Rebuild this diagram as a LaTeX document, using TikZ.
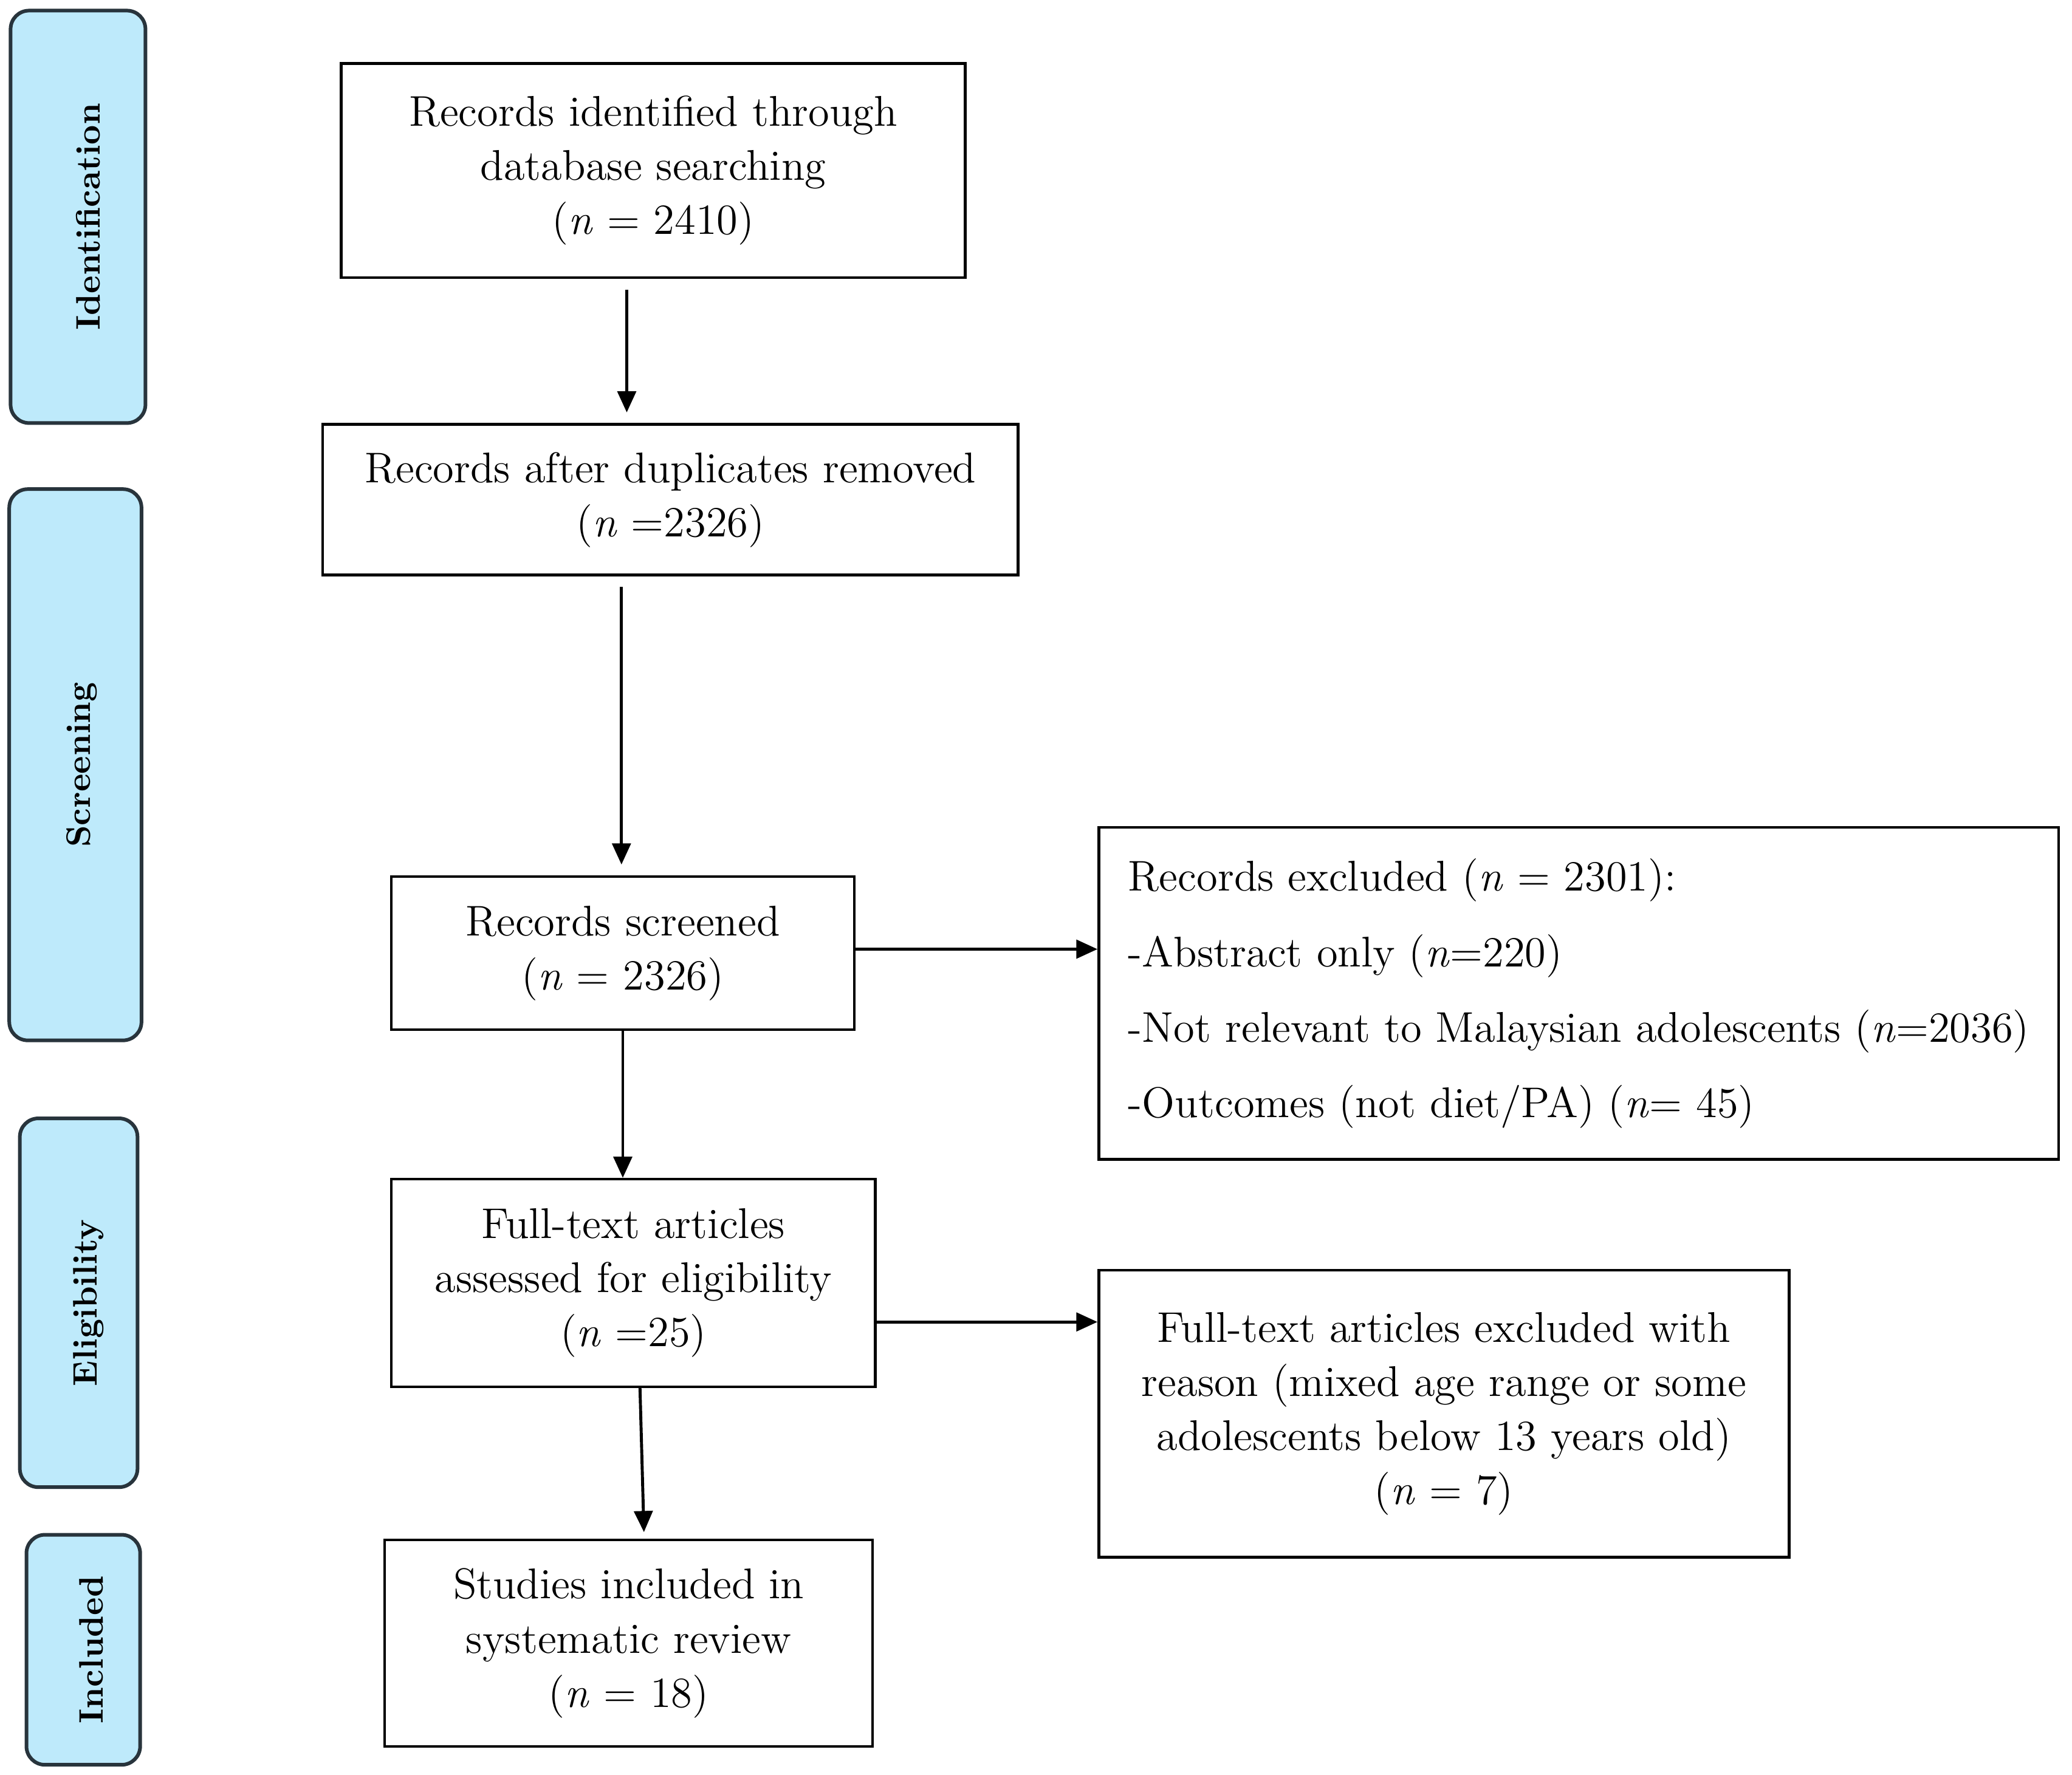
\documentclass[tikz,border=0pt]{standalone}
\usetikzlibrary{arrows.meta}
\definecolor{sidefill}{RGB}{190,234,251}
\definecolor{sideline}{RGB}{40,52,60}
\begin{document}
\begin{tikzpicture}[x=0.4pt,y=-0.4pt,
  box/.style={draw=black, line width=0.8pt, inner sep=0pt, align=center,
    font=\fontsize{13}{16.4}\selectfont},
  side/.style={draw=sideline, fill=sidefill, line width=1.1pt, rounded corners=5.6pt,
    inner sep=0pt},
  sidetext/.style={rotate=90, inner sep=0pt, font=\fontsize{10.3}{12}\selectfont\bfseries},
  arr/.style={line width=0.9pt, -{Triangle[length=6.4pt,width=5.6pt]}}]
\useasboundingbox (0,0) rectangle (1567,1342.3);
% side phase boxes
\node[side, minimum width=102*0.4pt, minimum height=312*0.4pt,
  label={[sidetext, yshift=-3pt]center:Identification}] (S1) at (59,164) {};
\node[side, minimum width=100*0.4pt, minimum height=417*0.4pt,
  label={[sidetext, yshift=-2pt]center:Screening}] (S2) at (57,578.5) {};
\node[side, minimum width=89*0.4pt, minimum height=279*0.4pt,
  label={[sidetext, yshift=-3pt]center:Eligibility}] (S3) at (59.5,985.5) {};
\node[side, minimum width=86*0.4pt, minimum height=174*0.4pt,
  label={[sidetext, yshift=-2.5pt]center:Included}] (S4) at (63,1248) {};
% flow boxes
\node[box, minimum width=472*0.4pt, minimum height=162*0.4pt] (B1) at (494,129)
  {Records identified through\\database searching\\(\textit{n} = 2410)};
\node[box, minimum width=526*0.4pt, minimum height=114*0.4pt] (B2) at (507,378)
  {Records after duplicates removed\\(\textit{n} =2326)};
\node[box, minimum width=350*0.4pt, minimum height=116*0.4pt] (B3) at (471,721)
  {Records screened\\(\textit{n} = 2326)};
\node[box, align=left, minimum width=726*0.4pt, minimum height=251*0.4pt,
  font=\fontsize{13}{22.8}\selectfont] (B4) at (1194,751.5)
  {Records excluded (\textit{n} = 2301):\\-Abstract only (\textit{n}=220)\\-Not relevant to Malaysian adolescents (\textit{n}=2036)\\-Outcomes (not diet/PA) (\textit{n}= 45)};
\node[box, minimum width=366*0.4pt, minimum height=157*0.4pt] (B5) at (479,970.5)
  {Full-text articles\\assessed for eligibility\\(\textit{n} =25)};
\node[box, minimum width=522*0.4pt, minimum height=217*0.4pt] (B6) at (1092,1069.5)
  {Full-text articles excluded with\\reason (mixed age range or some\\adolescents below 13 years old)\\(\textit{n} = 7)};
\node[box, minimum width=369*0.4pt, minimum height=156*0.4pt] (B7) at (475.5,1243)
  {Studies included in\\systematic review\\(\textit{n} = 18)};
% connectors
\draw[arr, shorten <=3.2pt, shorten >=3.2pt] ([xshift=-8pt]B1.south) -- ([xshift=-8pt]B1.south |- B2.north);
\draw[arr, shorten <=3.2pt, shorten >=3.2pt] ([xshift=-14.8pt]B2.south) -- ([xshift=-14.8pt]B2.south |- B3.north);
\draw[arr] ([yshift=1.2pt]B3.east) -- ([yshift=1.2pt]B3.east -| B4.west);
\draw[arr] (B3.south) -- (B3.south |- B5.north);
\draw[arr] ([yshift=-11.8pt]B5.east) -- ([yshift=-11.8pt]B5.east -| B6.west);
\draw[arr] ([xshift=2pt]B5.south) -- ([xshift=4.6pt,yshift=2pt]B7.north);
\end{tikzpicture}
\end{document}
